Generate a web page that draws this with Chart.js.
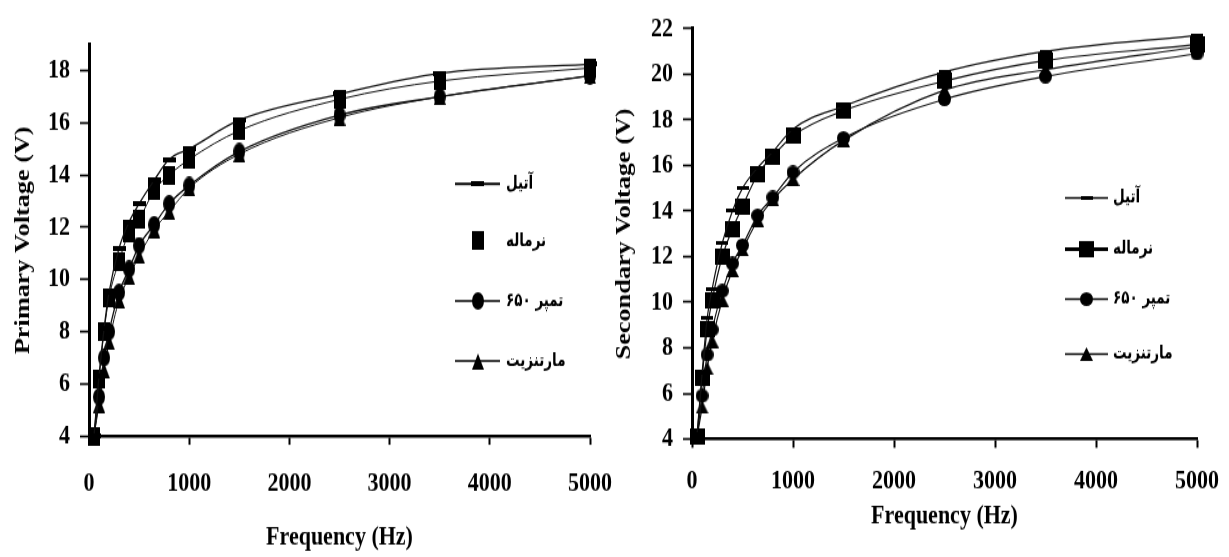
<!DOCTYPE html>
<html>
<head>
<meta charset="utf-8">
<script src="https://cdn.jsdelivr.net/npm/chart.js@4.4.1/dist/chart.umd.min.js"></script>
<style>
  html, body { margin: 0; padding: 0; background: #fff; }
  #wrap { position: relative; width: 1229px; height: 557px; overflow: hidden; background: #fff; }
  /* the figure's lettering and markers are drawn tall: draw on a shorter canvas and stretch it */
  canvas { position: absolute; top: 0; display: block; transform-origin: 0 0; }
  #primary { left: 0; }
  #secondary { left: 605px; }
</style>
</head>
<body>
<div id="wrap">
  <canvas id="primary" width="614" height="446"></canvas>
  <canvas id="secondary" width="624" height="446"></canvas>
</div>
<script>
// Test frequencies (Hz)
const frequencies = [50, 100, 150, 200, 300, 400, 500, 650, 800, 1000, 1500, 2500, 3500, 5000];

// Series names (steel structure)
const seriesNames = ['آتیل', 'نرماله', 'تمپر ۶۵۰', 'مارتنزیت'];

// Primary coil voltage (V)
const primaryAtil     = [4.0, 6.3, 8.1, 9.5, 11.2, 12.2, 12.9, 13.8, 14.6, 15.0, 16.1, 17.1, 17.9, 18.25];
const primaryNormal   = [4.0, 6.2, 8.0, 9.3, 10.7, 11.8, 12.3, 13.4, 14.0, 14.6, 15.7, 16.9, 17.6, 18.1];
const primaryTemper   = [4.0, 5.5, 7.0, 8.0, 9.5, 10.4, 11.3, 12.1, 12.9, 13.6, 14.9, 16.3, 17.0, 17.8];
const primaryMarten   = [4.0, 5.2, 6.5, 7.6, 9.2, 10.1, 10.9, 11.9, 12.6, 13.5, 14.8, 16.2, 17.0, 17.8];

// Secondary coil voltage (V)
const secondaryAtil   = [4.2, 6.9, 9.3, 10.6, 12.6, 14.0, 15.0, 15.9, 16.6, 17.6, 18.6, 20.1, 21.0, 21.7];
const secondaryNormal = [4.1, 6.7, 8.8, 10.1, 12.0, 13.2, 14.2, 15.6, 16.4, 17.3, 18.4, 19.7, 20.6, 21.3];
const secondaryTemper = [4.1, 5.9, 7.7, 8.8, 10.5, 11.7, 12.5, 13.8, 14.6, 15.7, 17.2, 18.9, 19.9, 20.9];
const secondaryMarten = [4.1, 5.4, 7.1, 8.3, 10.1, 11.4, 12.3, 13.6, 14.5, 15.4, 17.1, 19.3, 20.2, 21.2];

// Axis ticks
const xTickValues = [0, 1000, 2000, 3000, 4000, 5000];
const xTickLabels = ['0', '1000', '2000', '3000', '4000', '5000'];
const primaryYTicks = [4, 6, 8, 10, 12, 14, 16, 18];
const secondaryYTicks = [4, 6, 8, 10, 12, 14, 16, 18, 20, 22];

const PAGE_H = 557;
const CANVAS_H = 446;
const K = PAGE_H / CANVAS_H;           // vertical stretch of the canvases
document.querySelectorAll('canvas').forEach(c => { c.style.transform = 'scaleY(' + K + ')'; });
const v = px => px / K;                // page-space vertical size -> canvas space

const SERIF = "'Liberation Serif', 'Times New Roman', serif";
const ARABIC = "'DejaVu Sans Condensed', 'DejaVu Sans', sans-serif";
const INK = '#000';

// Solid marker sprites used as point styles (sizes given in page pixels)
function marker(shape, w, h) {
  const c = document.createElement('canvas');
  c.width = w; c.height = Math.max(2, Math.round(v(h)));
  const g = c.getContext('2d');
  const H = c.height;
  g.fillStyle = INK;
  g.beginPath();
  if (shape === 'rect') {
    g.rect(0, 0, w, H);
  } else if (shape === 'ellipse') {
    g.ellipse(w / 2, H / 2, w / 2, H / 2, 0, 0, Math.PI * 2);
  } else {
    g.moveTo(w / 2, 0); g.lineTo(w, H); g.lineTo(0, H); g.closePath();
  }
  g.fill();
  return c;
}

function points(values) {
  return frequencies.map((f, i) => ({ x: f, y: values[i] }));
}

// Legend drawn as line + marker + label, placed inside the plot
const lineLegend = {
  id: 'lineLegend',
  afterDraw(chart, args, opts) {
    const ctx = chart.ctx;
    ctx.save();
    opts.rows.forEach((row, i) => {
      const ds = chart.data.datasets[i];
      const y = v(row.y);
      if (row.line) {
        ctx.strokeStyle = INK;
        ctx.lineWidth = row.line;
        ctx.beginPath();
        ctx.moveTo(opts.x0, y);
        ctx.lineTo(opts.x1, y);
        ctx.stroke();
      }
      const img = ds.pointStyle;
      const cx = (opts.x0 + opts.x1) / 2;
      ctx.drawImage(img, Math.round(cx - img.width / 2), Math.round(y - img.height / 2));
      ctx.fillStyle = INK;
      ctx.font = 'bold ' + opts.size + 'px ' + ARABIC;
      ctx.textBaseline = 'middle';
      ctx.textAlign = 'left';
      ctx.fillText(ds.label, opts.tx, y);
    });
    ctx.restore();
  }
};

function build(id, cfg) {
  const canvas = document.getElementById(id);
  const datasets = cfg.series.map((s, i) => ({
    label: seriesNames[i],
    data: points(s.values),
    borderColor: '#111',
    borderWidth: s.lineWidth,
    pointStyle: s.marker,
    pointRadius: 7,
    pointHoverRadius: 7,
    cubicInterpolationMode: 'monotone',
    clip: false,
    fill: false
  }));

  const xAxisHeight = CANVAS_H - v(cfg.plotBottom);

  return new Chart(canvas, {
    type: 'line',
    data: { datasets },
    plugins: [lineLegend],
    options: {
      responsive: false,
      animation: false,
      events: [],
      layout: { padding: { left: 0, top: v(cfg.plotTop), right: canvas.width - cfg.plotRight, bottom: 0 } },
      plugins: {
        legend: { display: false },
        tooltip: { enabled: false },
        lineLegend: cfg.legend
      },
      scales: {
        x: {
          type: 'linear',
          min: 0, max: 5000,
          afterBuildTicks(s) { s.ticks = xTickValues.map(t => ({ value: t })); },
          afterFit(s) { s.height = xAxisHeight; s.paddingLeft = 0; s.paddingRight = 0; },
          ticks: {
            color: INK, maxRotation: 0, autoSkip: false,
            padding: cfg.xTickPad,
            font: { family: SERIF, weight: 'bold', size: 22 },
            callback: t => xTickLabels[xTickValues.indexOf(t)]
          },
          grid: { display: true, drawOnChartArea: false, drawTicks: true, tickLength: 7, tickWidth: 2, tickColor: INK },
          border: { display: true, color: INK, width: 2.5 },
          title: {
            display: true, text: 'Frequency (Hz)', color: INK,
            font: { family: SERIF, weight: 'bold', size: 22 },
            padding: { top: 0, bottom: cfg.xTitlePad }
          }
        },
        y: {
          type: 'linear',
          min: 4, max: cfg.yMax,
          afterBuildTicks(s) { s.ticks = cfg.yTicks.map(t => ({ value: t })); },
          afterFit(s) { s.width = cfg.plotLeft; s.paddingTop = 0; s.paddingBottom = 0; },
          ticks: {
            color: INK, padding: 10,
            font: { family: SERIF, weight: 'bold', size: 22 },
            callback: t => String(t)
          },
          grid: { display: true, drawOnChartArea: false, drawTicks: true, tickLength: 9, tickWidth: 1.7, tickColor: INK },
          border: { display: true, color: INK, width: 3 },
          title: {
            display: true, text: cfg.yTitle, color: INK,
            font: { family: SERIF, weight: 'bold', size: 21 },
            padding: { top: cfg.yTitlePad, bottom: 0 }
          }
        }
      }
    }
  });
}

build('primary', {
  yMax: 19,
  yTicks: primaryYTicks,
  yTitle: 'Primary Voltage (V)',
  plotLeft: 89, plotRight: 590, plotTop: 44.5, plotBottom: 436,
  yTitlePad: 11,
  xTickPad: 18,
  xTitlePad: 2,
  series: [
    { values: primaryAtil,   lineWidth: 1.3, marker: marker('rect', 13, 5) },
    { values: primaryNormal, lineWidth: 1.0, marker: marker('rect', 12, 19) },
    { values: primaryTemper, lineWidth: 1.3, marker: marker('ellipse', 12, 17) },
    { values: primaryMarten, lineWidth: 1.0, marker: marker('triangle', 12, 16) }
  ],
  legend: {
    x0: 455, x1: 500, tx: 506, size: 15,
    rows: [ { y: 184, line: 2 }, { y: 241, line: 0 }, { y: 301, line: 1.5 }, { y: 361, line: 1.5 } ]
  }
});

build('secondary', {
  yMax: 22,
  yTicks: secondaryYTicks,
  yTitle: 'Secondary Voltage (V)',
  plotLeft: 87, plotRight: 592, plotTop: 28.6, plotBottom: 439,
  yTitlePad: 7,
  xTickPad: 14,
  xTitlePad: 19,
  series: [
    { values: secondaryAtil,   lineWidth: 1.2, marker: marker('rect', 12, 4) },
    { values: secondaryNormal, lineWidth: 1.2, marker: marker('rect', 15, 16) },
    { values: secondaryTemper, lineWidth: 1.2, marker: marker('ellipse', 13, 14) },
    { values: secondaryMarten, lineWidth: 1.2, marker: marker('triangle', 13, 14) }
  ],
  legend: {
    x0: 460, x1: 503, tx: 508, size: 15,
    rows: [ { y: 198, line: 1.5 }, { y: 249, line: 3 }, { y: 299, line: 1.5 }, { y: 354, line: 1.5 } ]
  }
});
</script>
</body>
</html>
